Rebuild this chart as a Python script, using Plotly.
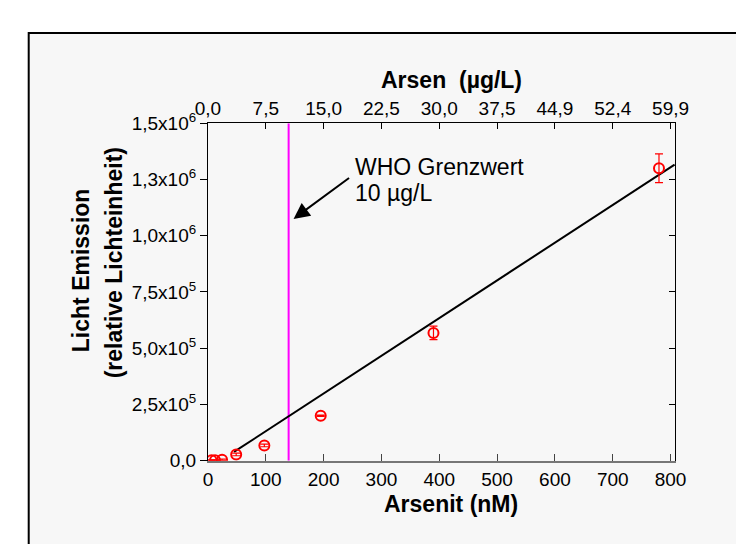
import plotly.graph_objects as go

# ---- data ----
arsenit_nM = [6.1, 12.2, 24.4, 48.8, 97.5, 195, 390, 780]
emission = [1500, 1800, 4000, 28000, 68000, 200000, 568000, 1300000]
emission_err = [2000, 2000, 3000, 6000, 6000, 3000, 30000, 64000]
fit_x = [45, 807]
fit_y = [39000, 1316000]
who_limit_nM = 139.5
x_ticks = [0, 100, 200, 300, 400, 500, 600, 700, 800]
top_tick_labels = ["0,0", "7,5", "15,0", "22,5", "30,0", "37,5", "44,9", "52,4", "59,9"]
y_ticks = [0, 250000, 500000, 750000, 1000000, 1250000, 1500000]
y_tick_labels = ["0,0", "2,5x10<sup>5</sup>", "5,0x10<sup>5</sup>", "7,5x10<sup>5</sup>",
                 "1,0x10<sup>6</sup>", "1,3x10<sup>6</sup>", "1,5x10<sup>6</sup>"]

W, H = 744, 544
def px(x):
    return x / W
def py(y):
    return 1 - y / H

FONT = "Liberation Sans, Arial, sans-serif"
x_range = [0, 808.3]
y_range = [0, 1500000]

fig = go.Figure()

# WHO limit vertical line
fig.add_trace(go.Scatter(x=[who_limit_nM, who_limit_nM], y=y_range, mode="lines",
                         line=dict(color="#ff00ff", width=2), hoverinfo="skip", showlegend=False))
# fit line
fig.add_trace(go.Scatter(x=fit_x, y=fit_y, mode="lines",
                         line=dict(color="black", width=2), hoverinfo="skip", showlegend=False))
# data points
fig.add_trace(go.Scatter(x=arsenit_nM, y=emission, mode="markers",
                         marker=dict(symbol="circle-open", size=10, color="red", line=dict(width=2, color="red")),
                         error_y=dict(type="data", array=emission_err, color="red", thickness=1.2, width=4),
                         showlegend=False))
# invisible trace for top/right axes
fig.add_trace(go.Scatter(x=[0], y=[0], xaxis="x2", yaxis="y2", mode="markers",
                         marker=dict(opacity=0), hoverinfo="skip", showlegend=False))

dom_x = [px(194), px(679)]
dom_y = [py(460), py(107)]
tickfont = dict(family=FONT, size=19, color="black")
titlefont = dict(family=FONT, size=23, color="black")

fig.update_layout(
    width=W, height=H,
    margin=dict(l=0, r=0, t=0, b=0),
    paper_bgcolor="white",
    plot_bgcolor="rgba(0,0,0,0)",
    xaxis=dict(domain=dom_x, range=x_range, tickmode="array", tickvals=x_ticks,
               ticktext=[str(v) for v in x_ticks], ticks="inside", ticklen=7, tickwidth=1,
               tickcolor="#444", showline=True, linecolor="#777", linewidth=2,
               showgrid=False, zeroline=False, tickfont=tickfont, anchor="y"),
    yaxis=dict(domain=dom_y, range=y_range, tickmode="array", tickvals=y_ticks,
               ticktext=y_tick_labels, ticks="outside", ticklen=7, tickwidth=1,
               tickcolor="black", showline=True, linecolor="black", linewidth=1,
               showgrid=False, zeroline=False, tickfont=tickfont, anchor="x"),
    xaxis2=dict(domain=dom_x, range=x_range, overlaying="x", side="top", anchor="y",
                tickmode="array", tickvals=x_ticks, ticktext=top_tick_labels,
                ticks="inside", ticklen=6, tickwidth=1, tickcolor="black",
                showline=True, linecolor="black", linewidth=1,
                showgrid=False, zeroline=False, tickfont=tickfont),
    yaxis2=dict(domain=dom_y, range=y_range, overlaying="y", side="right", anchor="x",
                tickmode="array", tickvals=y_ticks, showticklabels=False,
                ticks="inside", ticklen=6, tickwidth=1, tickcolor="black",
                showline=True, linecolor="black", linewidth=1,
                showgrid=False, zeroline=False),
    shapes=[dict(type="rect", xref="paper", yref="paper", x0=px(8), y0=-0.2, x1=1.2, y1=py(12.5),
                 fillcolor="#f7f7f7", line=dict(color="black", width=2), layer="below")],
    annotations=[
        dict(text="<b>Arsenit (nM)</b>", xref="paper", yref="paper", x=px(446), y=py(505),
             showarrow=False, font=titlefont, xanchor="center", yanchor="middle"),
        dict(text="<b>Arsen\u00a0 (µg/L)</b>", xref="paper", yref="paper", x=px(447), y=py(62),
             showarrow=False, font=titlefont, xanchor="center", yanchor="middle"),
        dict(text="<b>Licht Emission</b>", xref="paper", yref="paper", x=px(63), y=py(261),
             showarrow=False, textangle=-90, font=titlefont, xanchor="center", yanchor="middle"),
        dict(text="<b>(relative Lichteinheit)</b>", xref="paper", yref="paper", x=px(96), y=py(253),
             showarrow=False, textangle=-90, font=titlefont, xanchor="center", yanchor="middle"),
        dict(text="WHO Grenzwert", xref="paper", yref="paper", x=px(345), y=py(153),
             showarrow=False, xanchor="left", yanchor="middle", font=titlefont),
        dict(text="10 µg/L", xref="paper", yref="paper", x=px(345), y=py(180),
             showarrow=False, xanchor="left", yanchor="middle", font=titlefont),
        dict(text="", xref="x", yref="y", x=148, y=1075000, ax=57, ay=-42,
             showarrow=True, arrowhead=2, arrowsize=1.6, arrowwidth=2, arrowcolor="black"),
    ],
)

fig.write_html("out.html")
